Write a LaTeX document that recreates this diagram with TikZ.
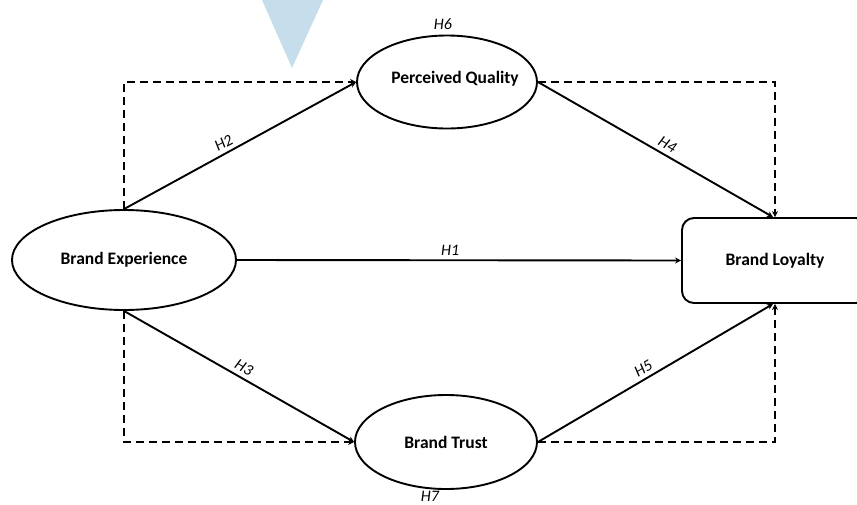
\documentclass[tikz,border=0pt]{standalone}
\usepackage{fontspec}
\setmainfont{Carlito}
\usetikzlibrary{arrows.meta,shapes.geometric}
\definecolor{tri}{RGB}{198,221,236}
\tikzset{
  constr/.style={draw, line width=1.9pt, ellipse, inner sep=0pt, font=\bfseries\fontsize{17.5}{19}\selectfont},
  outbox/.style={draw, line width=1.9pt, rectangle, rounded corners=12pt, inner sep=0pt, font=\bfseries\fontsize{17.5}{19}\selectfont},
  hyp/.style={-{Stealth[length=6pt,width=6pt]}, line width=1.9pt},
  med/.style={-{Stealth[length=6pt,width=6pt]}, line width=1.9pt, dash pattern=on 8pt off 5pt},
  hlab/.style={font=\itshape\fontsize{16}{18}\selectfont, inner sep=4pt}
}
\begin{document}
\begin{tikzpicture}[x=1pt,y=-1pt]
\useasboundingbox (0,0) rectangle (857,504);
\clip (0,0) rectangle (857,504);
\fill[tri] (262,0) -- (323,0) -- (292,68) -- cycle;
\node[constr, minimum width=224pt, minimum height=100pt] (BE) at (124,260) {Brand Experience};
\node[constr, minimum width=180pt, minimum height=93pt,
  label={[xshift=8pt,yshift=3pt,font=\bfseries\fontsize{17.5}{19}\selectfont]center:Perceived Quality}] (PQ) at (447,82) {};
\node[constr, minimum width=182pt, minimum height=94pt] (BT) at (446,442) {Brand Trust};
\node[outbox, minimum width=186pt, minimum height=85pt] (BL) at (775,260.5) {Brand Loyalty};
\node[hlab, inner sep=1pt] (H6) at (443,24) {H6};
\node[hlab, inner sep=1pt] (H7) at (430,496) {H7};
% direct paths
\draw[hyp] (BE.east) -- node[pos=0.48, above, hlab] {H1} (BL.west);
\draw[hyp] (BE.north) -- node[pos=0.45, above, sloped, hlab] {H2} (PQ.west);
\draw[hyp] (BE.south) -- node[pos=0.5, above, sloped, hlab] {H3} (BT.west);
\draw[hyp] (PQ.east) -- node[pos=0.53, above, sloped, hlab] {H4} ([xshift=-2pt]BL.north);
\draw[hyp] (BT.east) -- node[pos=0.47, above, sloped, hlab] {H5} ([xshift=-2pt]BL.south);
% mediation paths
\draw[med] (BE.north) |- (PQ.west);
\draw[med] (PQ.east) -| (BL.north);
\draw[med] (BE.south) |- (BT.west);
\draw[med] (BT.east) -| (BL.south);
\end{tikzpicture}
\end{document}
